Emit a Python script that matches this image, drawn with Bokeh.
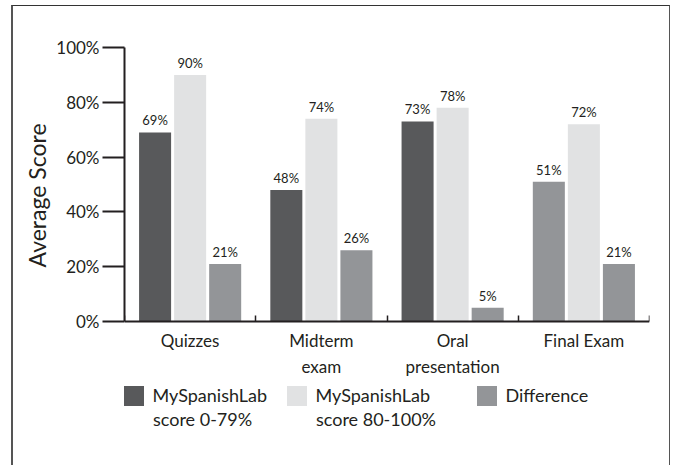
from bokeh.plotting import figure
from bokeh.models import (ColumnDataSource, Range1d, FixedTicker, PrintfTickFormatter,
                          Legend, LegendItem, Title, Label)
from bokeh.core.properties import value
from bokeh.embed import file_html
from bokeh.resources import INLINE

# ---- data ----
categories = ["Quizzes", "Midterm\nexam", "Oral\npresentation", "Final Exam"]
score_low = [69, 48, 73, 51]      # MySpanishLab score 0-79%
score_high = [90, 74, 78, 72]     # MySpanishLab score 80-100%
difference = [21, 26, 5, 21]      # Difference
series_labels = ["MySpanishLab\nscore 0-79%", "MySpanishLab\nscore 80-100%", "Difference"]
y_ticks = [0, 20, 40, 60, 80, 100]

# ---- style / layout ----
DARK = "#58595b"
LIGHT = "#e1e2e3"
MID = "#939598"
TXT = "#231f20"
FONT = "Lato"
low_colors = [DARK, DARK, DARK, MID]

W, H = 659, 460
TOP = 41            # frame top (100%) in canvas px
ZERO = 315          # 0% line in canvas px
# frame extends to canvas bottom so that the legend can sit inside it
y_start = -100.0 * (H - ZERO) / (ZERO - TOP)

p = figure(width=W, height=H, output_backend="svg", toolbar_location=None,
           x_range=Range1d(0, len(categories)), y_range=Range1d(y_start, 100),
           min_border_left=111, min_border_right=23, min_border_top=TOP,
           min_border_bottom=0)
p.styles = {"margin-left": "11px", "margin-top": "5px",
            "border-left": "2px solid #555555", "border-top": "1px solid #333333",
            "border-right": "1px solid #555555"}
p.outline_line_color = None
p.grid.visible = False
p.background_fill_color = "white"
p.border_fill_color = "white"

centers = [i + 0.5 for i in range(len(categories))]
off = 0.267
bw = 0.244
series = [score_low, score_high, difference]
colors = [low_colors, [LIGHT] * 4, [MID] * 4]
renderers = []
for k, (vals, cols) in enumerate(zip(series, colors)):
    xs = [c + (k - 1) * off for c in centers]
    src = ColumnDataSource(dict(x=xs, top=vals, color=cols,
                                label=[f"{v}%" for v in vals]))
    r = p.vbar(x="x", top="top", bottom=0, width=bw, fill_color="color",
               line_color=None, source=src)
    renderers.append(r)
    p.text(x="x", y="top", text="label", source=src, text_align="center",
           text_baseline="bottom", y_offset=-4, text_font=value(FONT),
           text_font_size="13px", text_color=TXT)

# y axis
ya = p.yaxis[0]
ya.bounds = (0, 100)
ya.ticker = FixedTicker(ticks=y_ticks)
ya.formatter = PrintfTickFormatter(format="%d%%")
ya.axis_line_width = 2
ya.axis_line_color = TXT
ya.major_tick_line_width = 2
ya.major_tick_line_color = TXT
ya.major_tick_out = 22
ya.major_tick_in = 0
ya.minor_tick_line_color = None
ya.major_label_standoff = 3
ya.major_label_text_font = FONT
ya.major_label_text_font_size = "17px"
ya.major_label_text_color = TXT

# y axis title (a left title, so it is centred on the 0-100 span)
p.add_layout(Title(text="Average Score", align="left", offset=199,
                   text_font=FONT, text_font_size="23px", text_font_style="normal",
                   text_color=TXT, standoff=6), "left")

# x axis, drawn at the 0% line
xa = p.xaxis[0]
xa.fixed_location = 0
xa.ticker = FixedTicker(ticks=centers, minor_ticks=list(range(len(categories) + 1)))
xa.major_label_overrides = {c: lab for c, lab in zip(centers, categories)}
xa.axis_line_width = 2
xa.axis_line_color = TXT
xa.major_tick_line_color = None
xa.major_tick_out = 0
xa.major_tick_in = 0
xa.minor_tick_line_color = TXT
xa.minor_tick_line_width = 1.5
xa.minor_tick_in = 6
xa.minor_tick_out = 0
xa.major_label_standoff = 8
xa.major_label_text_font = FONT
xa.major_label_text_font_size = "17px"
xa.major_label_text_color = TXT
xa.major_label_text_line_height = 1.25

# legend: one block per series; glyph aligned with the first text line
GW = 25            # glyph box (drawn with a 10% inset)
STAND = 7
LINE_GAP = 23.5
leg_x = [-3.5, 159.5, 349.5]   # px from frame left
leg_y = 58.5                   # px from frame bottom
for r, lab, lx in zip(renderers, series_labels, leg_x):
    lines = lab.split("\n")
    lg = Legend(items=[LegendItem(label=lines[0], renderers=[r])],
                location=(lx, leg_y), orientation="horizontal",
                glyph_width=GW, glyph_height=GW, label_standoff=STAND,
                padding=0, margin=0, spacing=0,
                border_line_color=None, background_fill_alpha=0,
                label_text_font=FONT, label_text_font_size="18px",
                label_text_color=TXT)
    p.add_layout(lg, "center")
    for j, extra in enumerate(lines[1:], start=1):
        p.add_layout(Label(x=lx + GW + STAND, y=leg_y + GW / 2 - j * LINE_GAP,
                           x_units="screen", y_units="screen", text=extra,
                           text_baseline="middle", text_align="left",
                           text_font=FONT, text_font_size="18px",
                           text_color=TXT))

open("out.html", "w").write(file_html(p, INLINE))
